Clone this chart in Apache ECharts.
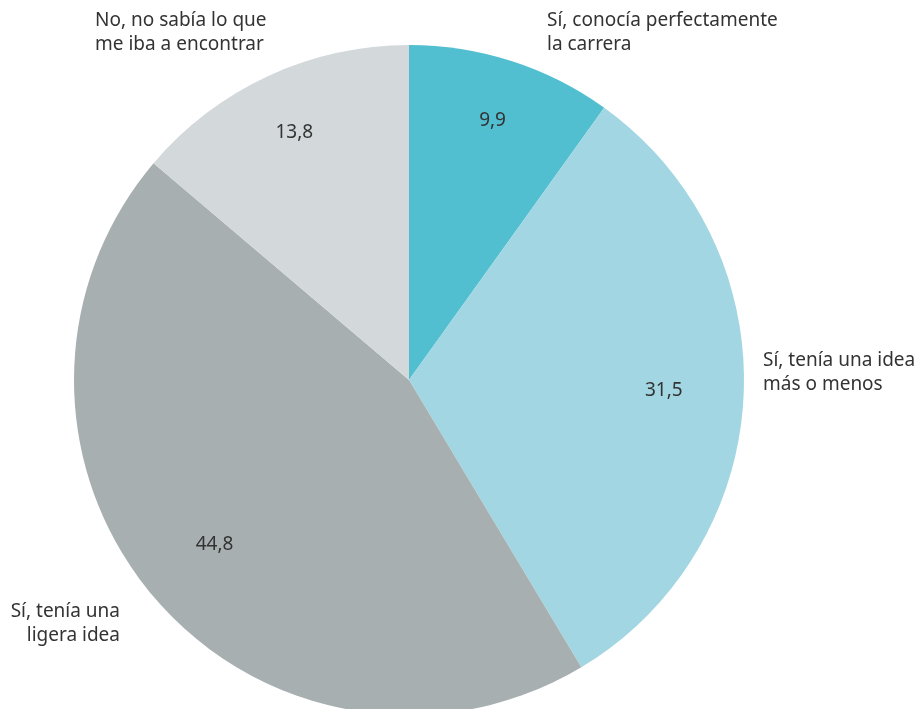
<!DOCTYPE html>
<html>
<head>
<meta charset="utf-8">
<script src="https://cdn.jsdelivr.net/npm/echarts@6/dist/echarts.min.js"></script>
<style>
  html, body { margin: 0; padding: 0; background: #fff; }
  #chart { width: 919px; height: 709px; }
</style>
</head>
<body>
<div id="chart"></div>
<script>
// datos del gráfico
var categorias = [
  'Sí, conocía perfectamente\nla carrera',
  'Sí, tenía una idea\nmás o menos',
  'Sí, tenía una\nligera idea',
  'No, no sabía lo que\nme iba a encontrar'
];
var valores = [9.9, 31.5, 44.8, 13.8];
var colores = ['#52bfd1', '#a2d6e2', '#a8afb1', '#d3d8da'];

var FONT = '"Noto Sans", sans-serif';
var centro = [409, 380];

var data = [];
for (var i = 0; i < valores.length; i++) {
  data.push({ name: categorias[i], value: valores[i], itemStyle: { color: colores[i] } });
}

// serie invisible para colocar los números dentro de cada porción
function etiquetas(radio, mostrar) {
  return {
    type: 'pie',
    silent: true,
    startAngle: 90,
    clockwise: true,
    center: centro,
    radius: [0, radio],
    z: 5,
    itemStyle: { color: 'transparent' },
    labelLine: { show: false },
    data: valores.map(function(v, i) {
      return {
        name: categorias[i], value: v,
        label: {
          show: mostrar.indexOf(i) >= 0,
          position: 'inside',
          formatter: String(v).replace('.', ','),
          fontFamily: FONT, fontSize: 19, color: '#333'
        }
      };
    })
  };
}

// textos exteriores
var textos = [
  { t: categorias[0], x: 547, y: 9, a: 'left' },
  { t: categorias[1], x: 763, y: 349, a: 'left' },
  { t: categorias[2], x: 120, y: 600, a: 'right' },
  { t: categorias[3], x: 95, y: 9, a: 'left' }
];

var chart = echarts.init(document.getElementById('chart'));
chart.setOption({
  animation: false,
  series: [
    {
      type: 'pie',
      startAngle: 90,
      clockwise: true,
      center: centro,
      radius: [0, 335],
      label: { show: false },
      labelLine: { show: false },
      data: data
    },
    etiquetas(540, [0, 3]),
    etiquetas(504, [1, 2])
  ],
  graphic: textos.map(function(o) {
    return {
      type: 'text',
      x: o.x, y: o.y,
      style: {
        text: o.t,
        fill: '#333',
        font: '19px ' + FONT,
        lineHeight: 24,
        align: o.a,
        verticalAlign: 'top'
      }
    };
  })
});
</script>
</body>
</html>
